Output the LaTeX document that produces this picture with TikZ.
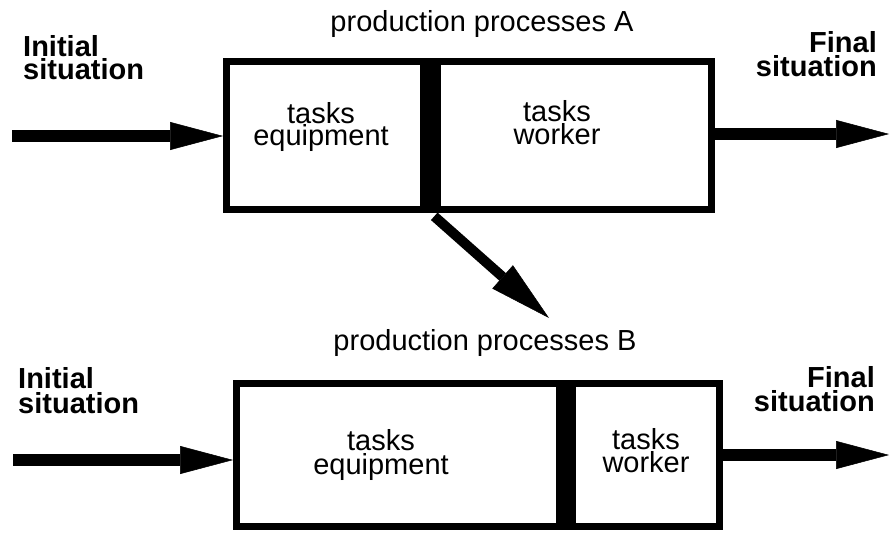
\documentclass[tikz,border=0pt]{standalone}
\usepackage{fontspec}
\setmainfont{Liberation Sans}
\usetikzlibrary{arrows.meta}
\begin{document}
\begin{tikzpicture}[x=1pt,y=-1pt,
  txt/.style={inner sep=0pt, align=center, font=\fontsize{29}{#1}\selectfont},
  txt/.default=24,
  boldtxt/.style={inner sep=0pt, font=\fontsize{29}{#1}\selectfont\bfseries},
  boldtxt/.default=24,
  procbox/.style={draw=black, line width=7pt, inner sep=0pt},
  divider/.style={fill=black, draw=none, inner sep=0pt, outer sep=0pt},
  bigarrow/.style={line width=12pt, -{Triangle[length=53pt,width=28pt,line width=0.5pt]}},
  diagarrow/.style={line width=10pt, -{Triangle[length=62pt,width=31pt,line width=0.5pt]}}
]
\useasboundingbox[fill=white] (0,0) rectangle (890,535);

% ---- process A ----
\node[procbox, minimum width=485pt, minimum height=148pt] (boxA) at (469,135.5) {};
\node[divider, minimum width=21pt, minimum height=155pt] (divA) at (430.5,135.5) {};
\node[txt, anchor=base] (prodA) at (482,32) {production processes A};
\node[txt=22] (eqA) at (321,126.6) {tasks\\equipment};
\node[txt=23] (wkA) at (557,123.1) {tasks\\worker};
\node[boldtxt=23, align=left, anchor=west] (iniA) at (23,58.1) {Initial\\situation};
\node[boldtxt=24, align=right, anchor=east] (finA) at (877,54.6) {Final\\situation};
\coordinate (inA) at (12,136);
\coordinate (outA) at (889,134);
\draw[bigarrow] (inA) -- (inA -| boxA.west);
\draw[bigarrow] (boxA.east |- outA) -- (outA);

% ---- process B ----
\node[procbox, minimum width=483pt, minimum height=143pt] (boxB) at (478,455) {};
\node[divider, minimum width=20pt, minimum height=150pt] (divB) at (566,455) {};
\node[txt, anchor=base] (prodB) at (485,350) {production processes B};
\node[txt=24] (eqB) at (381,454.6) {tasks\\equipment};
\node[txt=23] (wkB) at (646,451.1) {tasks\\worker};
\node[boldtxt=25, align=left, anchor=west] (iniB) at (18,391.1) {Initial\\situation};
\node[boldtxt=24, align=right, anchor=east] (finB) at (875,389.6) {Final\\situation};
\coordinate (inB) at (13,460);
\coordinate (outB) at (889,455);
\draw[bigarrow] (inB) -- (inB -| boxB.west);
\draw[bigarrow] (boxB.east |- outB) -- (outB);

% ---- transition A -> B ----
\coordinate (tipB) at (549,318);
\draw[diagarrow, shorten <=5pt] (divA.south) -- (tipB);
\end{tikzpicture}
\end{document}
